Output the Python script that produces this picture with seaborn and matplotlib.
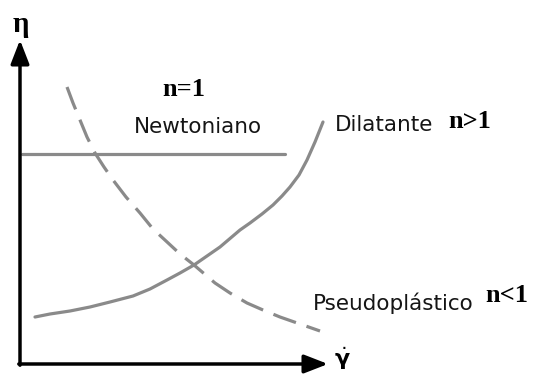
import matplotlib
matplotlib.use("Agg")
import matplotlib.pyplot as plt
import pandas as pd
import seaborn as sns

# Flow curves: viscosity (eta) versus shear rate (gamma dot), arbitrary units
newton_rate = [2, 265]
newton_eta = [210, 210]

dilat_rate = [15, 30, 50, 70, 90, 113, 130, 147, 160, 174, 187, 200, 220,
              230, 242, 253, 262, 270, 279, 287, 295, 303]
dilat_eta = [47, 50, 53, 57, 62, 68, 75, 84, 91, 99, 108, 117, 134,
             141, 150, 159, 168, 177, 189, 204, 222, 242]

pseudo_rate = [47, 53, 60, 67, 75, 84, 93, 106, 120, 133, 146, 160, 174,
               195, 210, 227, 243, 260, 280, 300]
pseudo_eta = [277, 261, 244, 227, 211, 197, 184, 167, 151, 135, 123, 110, 99,
              81, 71, 61, 54, 47, 40, 33]

curve_names = ["Newtoniano", "Dilatante", "Pseudoplástico"]
index_labels = ["n=1", "n>1", "n<1"]

sns.set_theme(style="white")
plt.rcParams["font.family"] = ["DejaVu Sans"]

fig = plt.figure(figsize=(5.36, 3.76), dpi=100)
ax = fig.add_axes([0, 0, 1, 1])

gray = "#8a8a8a"
newton = pd.DataFrame({"rate": newton_rate, "eta": newton_eta})
dilat = pd.DataFrame({"rate": dilat_rate, "eta": dilat_eta})
pseudo = pd.DataFrame({"rate": pseudo_rate, "eta": pseudo_eta})

sns.lineplot(data=newton, x="rate", y="eta", ax=ax, color=gray, lw=2.3)
sns.lineplot(data=dilat, x="rate", y="eta", ax=ax, color=gray, lw=2.3)
sns.lineplot(data=pseudo, x="rate", y="eta", ax=ax, color=gray, lw=2.3,
             linestyle=(0, (7.5, 3.5)))

ax.set_xlim(-20, 516)
ax.set_ylim(-12, 364)
ax.axis("off")

# Coordinate arrows
arrow = dict(arrowstyle="-|>,head_length=0.9,head_width=0.35", lw=2.5,
             color="black", mutation_scale=16, shrinkA=0, shrinkB=0)
ax.annotate("", xy=(0, 324), xytext=(0, -1.2), arrowprops=arrow)
ax.annotate("", xy=(308, 0), xytext=(-1.2, 0), arrowprops=arrow)

ax.text(1, 340, "η", fontsize=21, fontweight="bold", family="Liberation Serif",
        ha="center", va="center", color="black")
ax.text(322, 5, r"$\dot{\mathbf{\gamma}}$", fontsize=16, ha="center",
        va="center", color="black")

sans = dict(fontsize=15.5, color="#151515", va="center")
serif = dict(fontsize=19, fontweight="bold", family="Liberation Serif",
             color="black", va="center")

ax.text(178, 237, curve_names[0], ha="center", **sans)
ax.text(315, 239, curve_names[1], ha="left", **sans)
ax.text(293, 61, curve_names[2], ha="left", **sans)

ax.text(164, 275, index_labels[0], ha="center", **serif)
ax.text(428, 243, index_labels[1], ha="left", **serif)
ax.text(465, 68, index_labels[2], ha="left", **serif)

fig.savefig("out.png", dpi=100, facecolor="white")
